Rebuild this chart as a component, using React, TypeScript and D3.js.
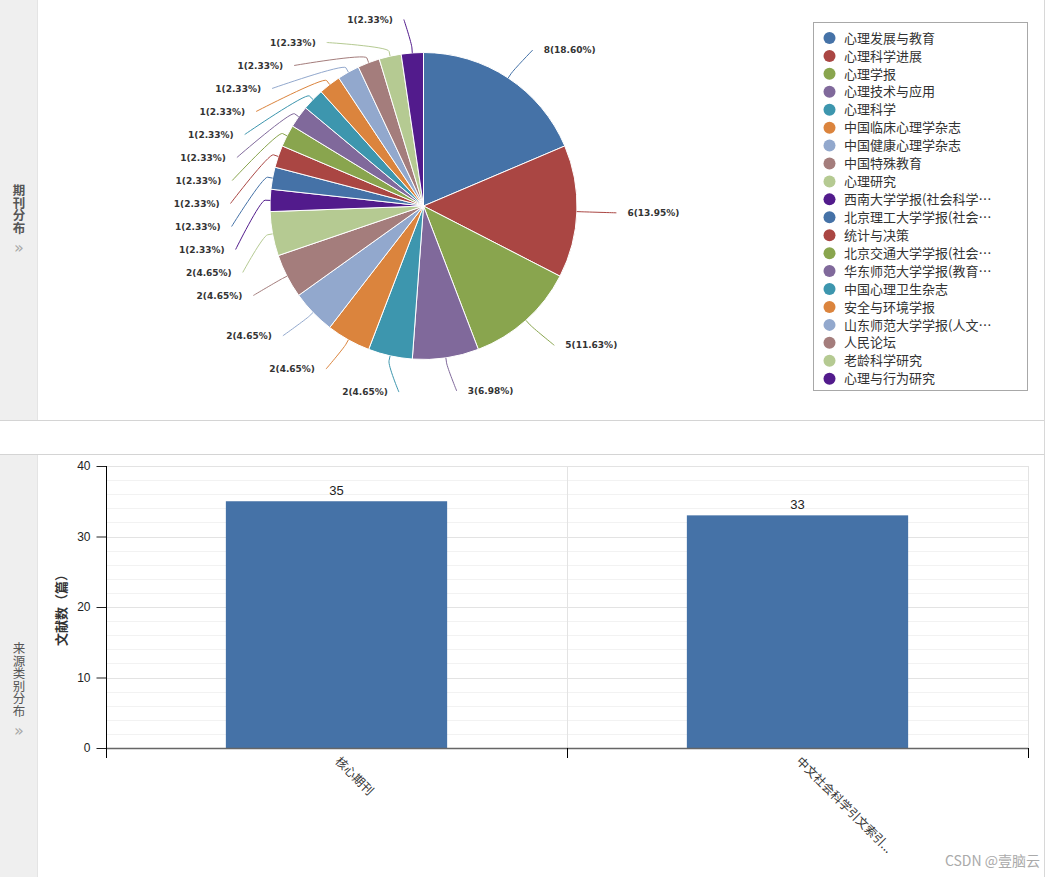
import React, { useEffect, useRef } from "react";
import * as d3 from "d3";

// pie: journal distribution
const journals = [
  "心理发展与教育",
  "心理科学进展",
  "心理学报",
  "心理技术与应用",
  "心理科学",
  "中国临床心理学杂志",
  "中国健康心理学杂志",
  "中国特殊教育",
  "心理研究",
  "西南大学学报(社会科学…",
  "北京理工大学学报(社会…",
  "统计与决策",
  "北京交通大学学报(社会…",
  "华东师范大学学报(教育…",
  "中国心理卫生杂志",
  "安全与环境学报",
  "山东师范大学学报(人文…",
  "人民论坛",
  "老龄科学研究",
  "心理与行为研究",
];
const journalCounts = [8, 6, 5, 3, 2, 2, 2, 2, 2, 1, 1, 1, 1, 1, 1, 1, 1, 1, 1, 1];
const palette = [
  "#4572a7",
  "#aa4643",
  "#89a54e",
  "#80699b",
  "#3d96ae",
  "#db843d",
  "#92a8cd",
  "#a47d7c",
  "#b5ca92",
  "#521b8c",
];

// bar: source type distribution
const sourceTypes = ["核心期刊", "中文社会科学引文索引..."];
const sourceCounts = [35, 33];
const yTicks = [0, 10, 20, 30, 40];

const W = 1053;
const H = 877;

const App = () => {
  const svgRef = useRef<SVGSVGElement | null>(null);

  useEffect(() => {
    if (!svgRef.current) return;
    const svg = d3.select(svgRef.current);
    svg.selectAll("*").remove();

    // page frame
    svg.append("rect").attr("width", W).attr("height", H).attr("fill", "#fff");
    const sidebar = (y0: number, y1: number, textTop: number, title: string, bold: boolean) => {
      svg.append("rect").attr("x", 0).attr("y", y0).attr("width", 37).attr("height", y1 - y0).attr("fill", "#efefef");
      svg.append("line").attr("x1", 37.5).attr("x2", 37.5).attr("y1", y0).attr("y2", y1).attr("stroke", "#e4e4e4");
      svg
        .append("text")
        .attr("x", 19)
        .attr("y", textTop)
        .attr("style", "writing-mode: vertical-rl; text-orientation: upright")
        .attr("font-family", "Noto Sans CJK SC")
        .attr("font-size", 12.5)
        .attr("font-weight", bold ? "bold" : "normal")
        .attr("fill", "#555")
        .text(title);
      svg
        .append("text")
        .attr("x", 19)
        .attr("y", textTop + title.length * 12.8 + 12)
        .attr("dy", "0.35em")
        .attr("text-anchor", "middle")
        .attr("font-family", "DejaVu Sans")
        .attr("font-size", 16)
        .attr("fill", "#a8a8a8")
        .text("»");
    };
    sidebar(0, 420, 184, "期刊分布", true);
    sidebar(455, H, 642, "来源类别分布", false);
    svg.append("line").attr("x1", 0).attr("x2", 1044).attr("y1", 420.5).attr("y2", 420.5).attr("stroke", "#d4d4d4");
    svg.append("line").attr("x1", 0).attr("x2", 1044).attr("y1", 454.5).attr("y2", 454.5).attr("stroke", "#d4d4d4");
    svg.append("line").attr("x1", 1044.5).attr("x2", 1044.5).attr("y1", 0).attr("y2", H).attr("stroke", "#d8d8d8");

    // ---------- pie ----------
    const cx = 423.5;
    const cy = 206;
    const r = 153.5;
    const total = d3.sum(journalCounts);
    const arcs = d3.pie<number>().sort(null).value((d) => d)(journalCounts);
    const arc = d3.arc<d3.PieArcDatum<number>>().innerRadius(0).outerRadius(r);

    const pg = svg.append("g").attr("transform", `translate(${cx},${cy})`);
    pg.selectAll("path")
      .data(arcs)
      .join("path")
      .attr("d", arc)
      .attr("fill", (_, i) => palette[i % palette.length])
      .attr("stroke", "#fff")
      .attr("stroke-width", 1);

    // label layout: natural positions on a circle, pushed apart top-down
    const labelR = 187;
    const gap = 23;
    const items = arcs.map((a, i) => {
      const mid = (a.startAngle + a.endAngle) / 2;
      return { i, mid, right: Math.sin(mid) >= 0, y: -labelR * Math.cos(mid) };
    });
    [true, false].forEach((side) => {
      const list = items.filter((d) => d.right === side).sort((a, b) => a.y - b.y);
      for (let k = 1; k < list.length; k++) {
        list[k].y = Math.max(list[k].y, list[k - 1].y + gap);
      }
    });

    items.forEach((d) => {
      const color = palette[d.i % palette.length];
      const sgn = d.right ? 1 : -1;
      const sq = Math.sqrt(Math.max(0, labelR * labelR - d.y * d.y));
      const land = [r * Math.sin(d.mid), -r * Math.cos(d.mid)];
      const brk = [(r + 5) * Math.sin(d.mid), -(r + 5) * Math.cos(d.mid)];
      const end = [sgn * (sq + 6), d.y];
      const path = d3.path();
      path.moveTo(end[0], end[1]);
      path.bezierCurveTo(end[0], end[1], 2 * brk[0] - land[0], 2 * brk[1] - land[1], brk[0], brk[1]);
      path.lineTo(land[0], land[1]);
      pg.append("path")
        .attr("d", path.toString())
        .attr("fill", "none")
        .attr("stroke", color)
        .attr("stroke-width", 1);
      const v = journalCounts[d.i];
      pg.append("text")
        .attr("x", sgn * (sq + 17))
        .attr("y", d.y)
        .attr("dy", "0.35em")
        .attr("text-anchor", d.right ? "start" : "end")
        .attr("font-family", "DejaVu Sans")
        .attr("font-size", 9)
        .attr("font-weight", "bold")
        .attr("fill", "#333")
        .text(`${v}(${((v / total) * 100).toFixed(2)}%)`);
    });

    // legend
    const lx = 813.5;
    const ly = 22.5;
    const rowH = 17.93;
    svg.append("rect")
      .attr("x", lx)
      .attr("y", ly)
      .attr("width", 214)
      .attr("height", 368)
      .attr("fill", "#fff")
      .attr("stroke", "#a8a8a8");
    const lg = svg.append("g");
    journals.forEach((name, i) => {
      const y = ly + 15.5 + i * rowH;
      lg.append("circle").attr("cx", lx + 16).attr("cy", y).attr("r", 6).attr("fill", palette[i % palette.length]);
      lg.append("text")
        .attr("x", lx + 30.5)
        .attr("y", y)
        .attr("dy", "0.36em")
        .attr("font-family", "Noto Sans CJK SC")
        .attr("font-size", 13)
        .attr("fill", "#333")
        .text(name);
    });

    // ---------- bars ----------
    const left = 106;
    const right = 1028;
    const top = 466;
    const bottom = 748;
    const x = d3.scaleBand<string>().domain(sourceTypes).range([left, right]).paddingInner(0.52).paddingOuter(0.26);
    const y = d3.scaleLinear().domain([0, 40]).range([bottom, top]);
    const step = x.step();

    const bg = svg.append("g");
    // minor grid
    bg.selectAll("line.minor")
      .data(d3.range(2, 40, 2).filter((v) => v % 10 !== 0))
      .join("line")
      .attr("x1", left)
      .attr("x2", right)
      .attr("y1", (d) => Math.round(y(d)) + 0.5)
      .attr("y2", (d) => Math.round(y(d)) + 0.5)
      .attr("stroke", "#f2f2f2");
    bg.selectAll("line.major")
      .data(yTicks.filter((v) => v > 0))
      .join("line")
      .attr("x1", left)
      .attr("x2", right)
      .attr("y1", (d) => Math.round(y(d)) + 0.5)
      .attr("y2", (d) => Math.round(y(d)) + 0.5)
      .attr("stroke", "#e3e3e3");
    // vertical band grid + right border
    const boundaries = d3.range(sourceTypes.length + 1).map((k) => left + k * step);
    bg.selectAll("line.vgrid")
      .data(boundaries.slice(1))
      .join("line")
      .attr("x1", (d) => Math.round(d) + 0.5)
      .attr("x2", (d) => Math.round(d) + 0.5)
      .attr("y1", top)
      .attr("y2", bottom)
      .attr("stroke", "#e3e3e3");

    bg.selectAll("rect.bar")
      .data(sourceCounts)
      .join("rect")
      .attr("x", (_, i) => x(sourceTypes[i]) as number)
      .attr("y", (d) => y(d))
      .attr("width", x.bandwidth())
      .attr("height", (d) => bottom - y(d))
      .attr("fill", "#4572a7");

    bg.selectAll("text.val")
      .data(sourceCounts)
      .join("text")
      .attr("x", (_, i) => (x(sourceTypes[i]) as number) + x.bandwidth() / 2)
      .attr("y", (d) => y(d) - 6)
      .attr("text-anchor", "middle")
      .attr("font-family", "Liberation Sans")
      .attr("font-size", 13)
      .attr("fill", "#222")
      .text((d) => d);

    // x axis line + ticks
    bg.append("line")
      .attr("x1", left)
      .attr("x2", right)
      .attr("y1", bottom + 0.5)
      .attr("y2", bottom + 0.5)
      .attr("stroke", "#666")
      .attr("stroke-width", 1.5);
    bg.selectAll("line.xtick")
      .data(boundaries)
      .join("line")
      .attr("x1", (d) => Math.round(d) + 0.5)
      .attr("x2", (d) => Math.round(d) + 0.5)
      .attr("y1", bottom)
      .attr("y2", bottom + 10)
      .attr("stroke", "#000");
    bg.selectAll("text.xlab")
      .data(sourceTypes)
      .join("text")
      .attr("transform", (d) => `translate(${(x(d) as number) + x.bandwidth() / 2 - 2},${bottom + 14}) rotate(45)`)
      .attr("font-family", "Noto Sans CJK SC")
      .attr("font-size", 12)
      .attr("fill", "#333")
      .text((d) => d);

    // y axis
    const yAxis = bg.append("g").attr("transform", `translate(${left + 0.5},0)`).call(
      d3.axisLeft(y).tickValues(yTicks).tickSize(10).tickSizeOuter(0).tickPadding(6)
    );
    yAxis.select(".domain").remove();
    yAxis.selectAll(".tick line").attr("stroke", "#222");
    yAxis.selectAll(".tick text").attr("font-family", "Liberation Sans").attr("font-size", 12).attr("fill", "#222");
    bg.append("line")
      .attr("x1", left + 0.5)
      .attr("x2", left + 0.5)
      .attr("y1", top)
      .attr("y2", bottom + 10)
      .attr("stroke", "#000");

    bg.append("text")
      .attr("transform", `translate(61,${(top + bottom) / 2}) rotate(-90)`)
      .attr("text-anchor", "middle")
      .attr("dy", "0.35em")
      .attr("font-family", "Noto Sans CJK SC")
      .attr("font-size", 13)
      .attr("font-weight", "bold")
      .attr("fill", "#333")
      .text("文献数（篇）");

    // watermark
    svg.append("text")
      .attr("x", 1040)
      .attr("y", 866)
      .attr("text-anchor", "end")
      .attr("font-family", "Noto Sans CJK SC")
      .attr("font-size", 14)
      .attr("fill", "#aaa")
      .text("CSDN @壹脑云");
  }, []);

  return (
    <svg
      ref={svgRef}
      width={W}
      height={H}
      style={{ position: "absolute", left: 0, top: 0, display: "block" }}
    />
  );
};

export default App;
